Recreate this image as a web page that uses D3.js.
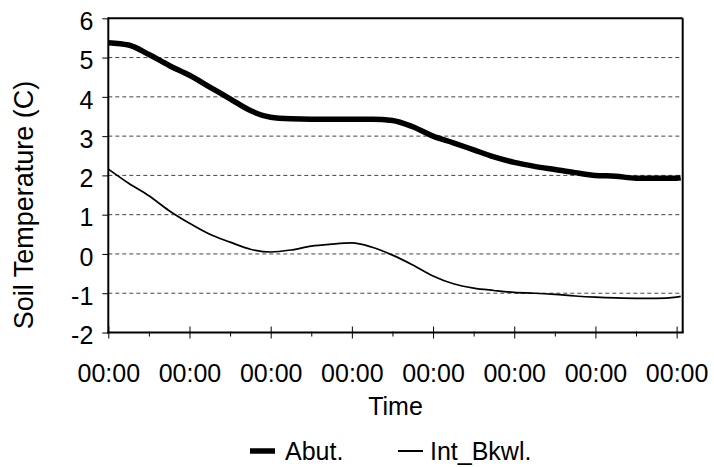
<!DOCTYPE html>
<html>
<head>
<meta charset="utf-8">
<script src="https://cdn.jsdelivr.net/npm/d3@7"></script>
<style>
  html, body { margin: 0; padding: 0; background: #fff; }
  svg { display: block; font-family: "Liberation Sans", Arial, sans-serif; }
</style>
</head>
<body>
<svg id="chart" width="714" height="467"></svg>
<script>
// ---- data ----
const timeSteps = [0, 0.5, 1, 1.5, 2, 2.5, 3, 3.5, 4, 4.5, 5, 5.5, 6, 6.5, 7, 7.5,
                   8, 8.5, 9, 9.5, 10, 10.5, 11, 11.5, 12, 12.5, 13, 13.5, 14, 14.1];
const abut = [5.38, 5.32, 5.08, 4.80, 4.55, 4.25, 3.95, 3.65, 3.48, 3.44, 3.43, 3.43,
              3.43, 3.43, 3.40, 3.24, 3.00, 2.83, 2.65, 2.47, 2.33, 2.23, 2.15, 2.07,
              2.00, 1.98, 1.93, 1.93, 1.93, 1.94];
const intBkwl = [2.16, 1.80, 1.48, 1.10, 0.78, 0.50, 0.30, 0.12, 0.05, 0.10, 0.20, 0.25,
                 0.28, 0.17, -0.03, -0.28, -0.56, -0.76, -0.87, -0.93, -0.98, -1.00,
                 -1.03, -1.07, -1.10, -1.12, -1.13, -1.13, -1.10, -1.08];
const seriesNames = ["Abut.", "Int_Bkwl."];
const xTickValues = [0, 1, 2, 3, 4, 5, 6, 7, 8, 9, 10, 11, 12, 13, 14];
const xTickLabel = "00:00";
const yTickValues = [-2, -1, 0, 1, 2, 3, 4, 5, 6];
const gridValues = [-1, 0, 1, 2, 3, 4, 5];
const xTitle = "Time";
const yTitle = "Soil Temperature (C)";

// ---- layout ----
const L = 108.3, R = 682.7, T = 18.3, B = 332.5;
const svg = d3.select("#chart");

const x = d3.scaleLinear().domain([0, 14.15]).range([L, R]);
const y = d3.scaleLinear().domain([-2, 6]).range([B, T]);

// gridlines
svg.append("g").selectAll("line").data(gridValues).join("line")
  .attr("x1", L).attr("x2", R)
  .attr("y1", d => y(d)).attr("y2", d => y(d))
  .attr("stroke", "#444").attr("stroke-width", 1)
  .attr("stroke-dasharray", "4,3");

// frame top / right
svg.append("line").attr("x1", L).attr("x2", R).attr("y1", T).attr("y2", T)
  .attr("stroke", "#000").attr("stroke-width", 2);
svg.append("line").attr("x1", R).attr("x2", R).attr("y1", T).attr("y2", B)
  .attr("stroke", "#000").attr("stroke-width", 2);

// lines
const line = d3.line().curve(d3.curveMonotoneX)
  .x((d, i) => x(timeSteps[i])).y(d => y(d));

svg.append("path").datum(intBkwl)
  .attr("d", line).attr("fill", "none")
  .attr("stroke", "#000").attr("stroke-width", 1.7);
svg.append("path").datum(abut)
  .attr("d", line).attr("fill", "none")
  .attr("stroke", "#000").attr("stroke-width", 5.5);

// x axis
const xAxis = d3.axisBottom(x).tickValues(xTickValues)
  .tickSize(5).tickPadding(0)
  .tickFormat((d, i) => (d % 2 === 0 ? xTickLabel : ""));
const gx = svg.append("g").attr("transform", `translate(0,${B})`).call(xAxis);
gx.select(".domain").remove();
gx.append("line").attr("x1", L - 1).attr("x2", R + 1).attr("y1", 0).attr("y2", 0)
  .attr("stroke", "#000").attr("stroke-width", 2);
gx.selectAll(".tick line").attr("stroke", "#000").attr("stroke-width", 1)
  .attr("y1", d => (d % 2 === 0 ? -6 : -1)).attr("y2", d => (d % 2 === 0 ? 6 : 4));
gx.selectAll(".tick text")
  .attr("font-family", "Liberation Sans, Arial, sans-serif")
  .attr("font-size", 25).attr("fill", "#000")
  .attr("dy", 0).attr("y", 49);

// y axis
const yAxis = d3.axisLeft(y).tickValues(yTickValues).tickSize(6).tickPadding(0)
  .tickFormat(d => String(d));
const gy = svg.append("g").attr("transform", `translate(${L},0)`).call(yAxis);
gy.select(".domain").remove();
gy.append("line").attr("x1", 0).attr("x2", 0).attr("y1", T - 1).attr("y2", B + 1)
  .attr("stroke", "#000").attr("stroke-width", 2);
gy.selectAll(".tick line").attr("stroke", "#000").attr("stroke-width", 1);
gy.selectAll(".tick text")
  .attr("font-family", "Liberation Sans, Arial, sans-serif")
  .attr("font-size", 25).attr("fill", "#000")
  .attr("x", -15).attr("dy", "0.45em");

// titles
svg.append("text").attr("x", (L + R) / 2).attr("y", 415)
  .attr("text-anchor", "middle").attr("font-size", 25).text(xTitle);
svg.append("text")
  .attr("transform", `translate(33,${205}) rotate(-90)`)
  .attr("text-anchor", "middle").attr("font-size", 27).text(yTitle);

// legend
const legendItems = [
  { name: seriesNames[0], x1: 250, x2: 275, tx: 285, w: 5.5 },
  { name: seriesNames[1], x1: 398, x2: 423, tx: 430, w: 2 }
];
const lg = svg.append("g");
legendItems.forEach(it => {
  lg.append("line").attr("x1", it.x1).attr("x2", it.x2).attr("y1", 451).attr("y2", 451)
    .attr("stroke", "#000").attr("stroke-width", it.w);
  lg.append("text").attr("x", it.tx).attr("y", 460).attr("font-size", 25).text(it.name);
});
</script>
</body>
</html>
